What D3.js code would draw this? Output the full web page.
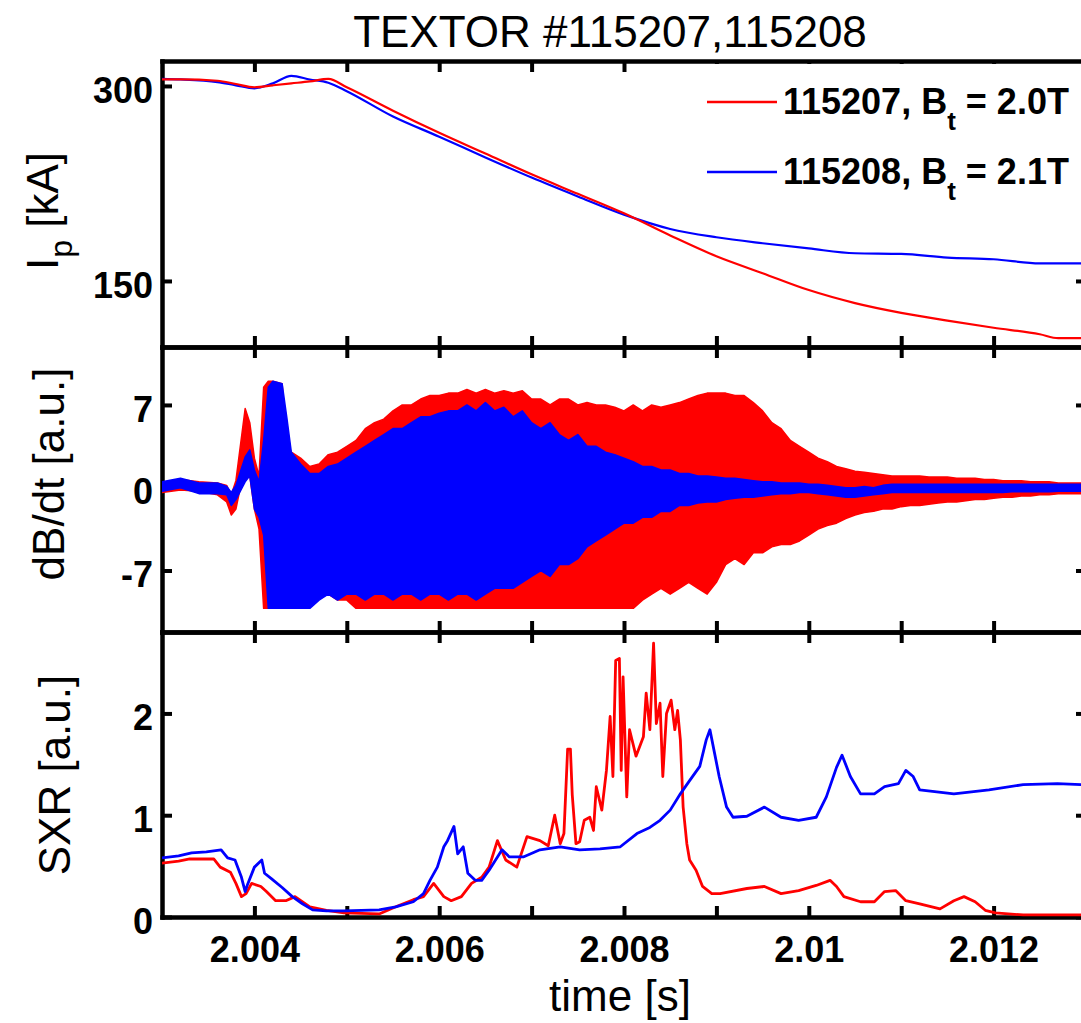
<!DOCTYPE html>
<html>
<head>
<meta charset="utf-8">
<script src="https://cdn.jsdelivr.net/npm/d3@7"></script>
<style>
  body { margin: 0; background: #fff; overflow: hidden; }
  text { font-family: "Liberation Sans", Arial, Helvetica, sans-serif; }
</style>
</head>
<body>
<svg id="chart" width="1081" height="1023"></svg>
<script>
// ---- data ----
const ipTime = [2.0030, 2.0032, 2.0036, 2.0038, 2.0040, 2.0042, 2.0044, 2.0046, 2.0048, 2.0050,
  2.0055, 2.0060, 2.0065, 2.0070, 2.0075, 2.0080, 2.0085, 2.0090, 2.0095, 2.0100,
  2.0105, 2.0110, 2.0115, 2.0120, 2.0125, 2.0127, 2.0130];
const ipRed = [305, 305, 304, 301.5, 299, 300.5, 302, 303.5, 305.4, 299,
  281, 264, 248, 232, 217, 202, 185, 169, 156, 143,
  133, 125.5, 119.5, 114, 109, 106, 106];
const ipBlue = [305.4, 305, 303, 300.5, 298.2, 302, 307.7, 305, 302.5, 296,
  276.5, 261, 245, 229.5, 215, 201, 190, 183.6, 179, 175,
  171.3, 170.8, 168, 166.7, 163.6, 163.6, 163.6];

// dB/dt : upper and lower envelope of the fast oscillation
const dbTime = [2.0030, 2.0032, 2.0034, 2.0036, 2.0037, 2.00375, 2.0038, 2.0039, 2.00395, 2.0040,
  2.00405, 2.0041, 2.00415, 2.0042, 2.0043, 2.00435, 2.0044, 2.0045, 2.0046]
  .concat(d3.range(17, 101).map(i => +(2.003 + i * 1e-4).toFixed(4)));

const dbRedHi = [0.4, 0.7, 0.5, 0.4, 0.2, -0.6, 0.6, 6.7, 5.5, 2.5,
  1.0, 8.5, 9.0, 9.0, 8.8, 4.0, 3.0, 2.5, 1.8,
  2.0, 2.8, 3.0, 3.5, 4.0, 5.0, 5.5, 5.8, 6.5, 7.0,
  7.0, 7.5, 7.8, 7.8, 8.0, 8.0, 8.3, 8.0, 8.3, 8.0,
  8.2, 8.0, 8.2, 7.5, 7.5, 7.0, 7.5, 7.5, 7.0, 7.2,
  7.0, 7.0, 6.8, 6.5, 7.0, 6.5, 7.0, 6.8, 7.0, 7.2,
  7.5, 7.8, 8.0, 8.0, 8.0, 7.8, 7.8, 7.2, 6.5, 5.5,
  5.0, 4.0, 3.5, 3.0, 2.5, 2.2, 1.8, 1.6, 1.4, 1.3,
  1.2, 1.1, 1.0, 1.0, 1.0, 1.0, 0.9, 0.9, 0.9, 0.8,
  0.8, 0.8, 0.7, 0.7, 0.6, 0.6, 0.6, 0.5, 0.5, 0.5,
  0.4, 0.4, 0.4, 0.4];
const dbRedLo = [-0.4, -0.2, -0.3, -0.6, -1.2, -2.3, -1.8, 2.0, 1.0, -1.8,
  -3.5, -10.2, -10.2, -10.2, -10.2, -10.2, -10.2, -10.2, -9.5,
  -9.0, -9.0, -9.5, -9.5, -10.2, -10.2, -10.2, -10.2, -10.2, -10.2,
  -10.2, -10.2, -10.2, -10.2, -10.2, -10.2, -10.2, -10.2, -10.2, -10.2,
  -10.2, -10.2, -10.2, -10.2, -10.2, -10.2, -10.2, -10.2, -10.2, -10.2,
  -10.2, -10.2, -10.2, -10.2, -10.2, -9.5, -9.0, -8.5, -9.0, -8.5,
  -8.0, -8.5, -9.0, -8.0, -6.5, -6.0, -6.5, -5.5, -5.5, -5.0,
  -4.8, -4.8, -4.5, -4.0, -3.5, -3.2, -3.0, -2.6, -2.3, -2.1,
  -2.0, -1.8, -1.8, -1.6, -1.5, -1.5, -1.4, -1.3, -1.2, -1.2,
  -1.1, -1.0, -1.0, -0.9, -0.8, -0.8, -0.7, -0.7, -0.6, -0.6,
  -0.5, -0.5, -0.5, -0.5];
const dbBlueHi = [0.5, 0.8, 0.4, 0.4, 0.1, -0.4, 0.2, 2.6, 3.2, 1.5,
  0.5, 4.0, 8.5, 9.0, 8.8, 6.0, 3.0, 2.0, 1.2,
  1.2, 1.8, 2.0, 2.5, 3.0, 3.5, 4.0, 4.5, 5.0, 5.0,
  5.5, 6.0, 6.0, 6.3, 6.5, 6.5, 7.0, 6.5, 7.2, 6.5,
  6.8, 6.0, 6.5, 5.5, 5.0, 5.5, 4.5, 4.0, 4.5, 3.5,
  3.5, 3.0, 2.8, 2.5, 2.2, 1.8, 1.8, 1.5, 1.5, 1.2,
  1.2, 1.0, 1.0, 0.9, 0.8, 0.8, 0.7, 0.6, 0.5, 0.5,
  0.4, 0.4, 0.4, 0.3, 0.3, 0.2, 0.1, 0.0, 0.0, 0.1,
  0.0, 0.2, 0.3, 0.3, 0.3, 0.3, 0.3, 0.3, 0.3, 0.3,
  0.3, 0.3, 0.3, 0.3, 0.3, 0.3, 0.3, 0.3, 0.3, 0.3,
  0.3, 0.3, 0.3, 0.3];
const dbBlueLo = [-0.3, 0.0, -0.5, -0.5, -0.6, -1.5, -1.0, 0.5, 1.0, -1.8,
  -2.5, -4.0, -10.2, -10.2, -10.2, -10.2, -10.2, -10.2, -10.2,
  -9.5, -9.0, -9.5, -9.0, -9.0, -9.5, -9.0, -9.0, -9.5, -9.0,
  -9.0, -9.5, -9.0, -9.0, -9.5, -9.0, -9.0, -9.5, -9.0, -8.5,
  -8.5, -8.5, -8.0, -7.5, -7.0, -7.5, -6.5, -6.5, -6.0, -5.0,
  -4.5, -4.0, -3.5, -3.0, -3.0, -2.5, -2.5, -2.0, -2.0, -1.5,
  -1.5, -1.3, -1.2, -1.2, -1.0, -0.9, -0.8, -0.8, -0.7, -0.6,
  -0.5, -0.5, -0.4, -0.4, -0.5, -0.6, -0.7, -0.8, -0.8, -0.7,
  -0.6, -0.5, -0.4, -0.4, -0.4, -0.4, -0.4, -0.4, -0.4, -0.4,
  -0.4, -0.4, -0.4, -0.4, -0.4, -0.35, -0.35, -0.35, -0.35, -0.35,
  -0.3, -0.3, -0.3, -0.3];

// SXR
const sxrTimeRed = [2.00300, 2.00318, 2.00330, 2.00356, 2.00363, 2.00374, 2.00380, 2.00386, 2.00391, 2.00397,
  2.00407, 2.00413, 2.00423, 2.00434, 2.00444, 2.00460, 2.00478, 2.00497, 2.00516, 2.00535,
  2.00553, 2.00572, 2.00583, 2.00594, 2.00605, 2.00613, 2.00624, 2.00635, 2.00646, 2.00654,
  2.00663, 2.00672, 2.00684, 2.00695, 2.00709, 2.00718, 2.00725, 2.00731, 2.00735, 2.00739,
  2.00742, 2.00744, 2.00748, 2.00752, 2.00757, 2.00763, 2.00767, 2.00770, 2.00776, 2.00781,
  2.00785, 2.00788, 2.00791, 2.00795, 2.00797, 2.00799, 2.00803, 2.00806, 2.00813, 2.00821,
  2.00824, 2.00828, 2.00832, 2.00835, 2.00839, 2.00842, 2.00846, 2.00851, 2.00855, 2.00858,
  2.00861, 2.00864, 2.00868, 2.00871, 2.00878, 2.00885, 2.00895, 2.00904, 2.00933, 2.00952,
  2.00970, 2.00989, 2.01008, 2.01023, 2.01030, 2.01038, 2.01056, 2.01071, 2.01082, 2.01094,
  2.01105, 2.01120, 2.01142, 2.01157, 2.01168, 2.01180, 2.01191, 2.01202, 2.01232, 2.01295];
const sxrRed = [0.53, 0.55, 0.57, 0.57, 0.49, 0.44, 0.33, 0.20, 0.23, 0.33,
  0.30, 0.25, 0.16, 0.16, 0.20, 0.10, 0.066, 0.04, 0.036, 0.03,
  0.10, 0.17, 0.20, 0.33, 0.20, 0.16, 0.20, 0.33, 0.39, 0.49,
  0.75, 0.56, 0.49, 0.79, 0.75, 0.70, 1.0, 0.72, 0.82, 1.65,
  1.65, 1.2, 0.72, 0.74, 0.95, 0.98, 0.85, 1.28, 1.05, 1.44,
  1.97, 1.38, 2.52, 2.54, 1.44, 2.36, 1.18, 1.84, 1.58, 1.77,
  2.2, 1.84, 2.69, 1.90, 2.1, 1.38, 2.0, 2.13, 1.84, 2.03,
  1.74, 1.08, 0.72, 0.56, 0.46, 0.30, 0.23, 0.23, 0.28, 0.30,
  0.23, 0.26, 0.31, 0.36, 0.30, 0.20, 0.15, 0.15, 0.25, 0.26,
  0.16, 0.13, 0.08, 0.16, 0.20, 0.15, 0.066, 0.04, 0.02, 0.02];

const sxrTimeBlue = [2.00300, 2.00318, 2.00332, 2.00348, 2.00364, 2.00371, 2.00379, 2.00386, 2.00390, 2.00393,
  2.00400, 2.00408, 2.00411, 2.00418, 2.00430, 2.00441, 2.00452, 2.00463, 2.00478, 2.00497,
  2.00535, 2.00553, 2.00572, 2.00583, 2.00590, 2.00598, 2.00605, 2.00609, 2.00616, 2.00620,
  2.00626, 2.00631, 2.00639, 2.00646, 2.00654, 2.00661, 2.00668, 2.00676, 2.00691, 2.00709,
  2.00731, 2.00752, 2.00774, 2.00796, 2.00814, 2.00828, 2.00839, 2.00850, 2.00861, 2.00871,
  2.00882, 2.00889, 2.00893, 2.00898, 2.00903, 2.00911, 2.00918, 2.00933, 2.00952, 2.00970,
  2.00989, 2.01008, 2.01019, 2.01030, 2.01036, 2.01045, 2.01056, 2.01071, 2.01082, 2.01097,
  2.01105, 2.01113, 2.01120, 2.01157, 2.01195, 2.01232, 2.01269, 2.01295];
const sxrBlue = [0.58, 0.60, 0.63, 0.64, 0.66, 0.58, 0.56, 0.39, 0.25, 0.33,
  0.49, 0.56, 0.43, 0.38, 0.29, 0.20, 0.13, 0.07, 0.06, 0.06,
  0.07, 0.10, 0.15, 0.23, 0.36, 0.49, 0.69, 0.75, 0.89, 0.62,
  0.69, 0.43, 0.36, 0.36, 0.46, 0.56, 0.66, 0.59, 0.59, 0.66,
  0.69, 0.66, 0.67, 0.69, 0.82, 0.88, 0.95, 1.05, 1.21, 1.34,
  1.48, 1.74, 1.84, 1.61, 1.38, 1.08, 0.98, 0.99, 1.08, 0.98,
  0.95, 0.98, 1.18, 1.47, 1.59, 1.38, 1.21, 1.21, 1.28, 1.31,
  1.44, 1.38, 1.25, 1.21, 1.25, 1.30, 1.31, 1.30];

const xTicks = [2.004, 2.005, 2.006, 2.007, 2.008, 2.009, 2.010, 2.011, 2.012];
const xLabelled = [2.004, 2.006, 2.008, 2.010, 2.012];
const ipTicks = [150, 300];
const dbTicks = [-7, 0, 7];
const sxrTicks = [0, 1, 2];

const RED = '#ff0000', BLUE = '#0000ff';

// ---- layout ----
const svg = d3.select('#chart');
const left = 162, right = 1086;
const x = d3.scaleLinear().domain([2.003, 2.013]).range([left, right]);

const panels = [
  { top: 61, bottom: 347, domain: [99.2, 319.2], ticks: ipTicks },
  { top: 347, bottom: 632, domain: [-12.2, 11.9], ticks: dbTicks },
  { top: 632, bottom: 917, domain: [0, 2.8], ticks: sxrTicks }
];
panels.forEach(p => { p.y = d3.scaleLinear().domain(p.domain).range([p.bottom, p.top]); });

function styleAxis(g, labelSize) {
  g.attr('font-family', null).attr('font-size', null);
  g.select('.domain').attr('stroke', '#000').attr('stroke-width', 4.5).attr('stroke-linecap', 'square');
  g.selectAll('.tick line').attr('stroke', '#000').attr('stroke-width', 4);
  g.selectAll('.tick text').attr('fill', '#000').style('font-size', labelSize + 'px').style('font-weight', 'bold');
}

const axesLayer = svg.append('g');
const dataLayer = svg.append('g');

panels.forEach((p, i) => {
  axesLayer.append('g').attr('transform', `translate(${left},0)`)
    .call(d3.axisLeft(p.y).tickValues(p.ticks).tickSize(-10).tickSizeOuter(0).tickPadding(9)
      .tickFormat(d => String(d)))
    .call(g => styleAxis(g, 36))
    .selectAll('.tick text').attr('dy', '0.45em');
  axesLayer.append('g').attr('transform', `translate(${right},0)`)
    .call(d3.axisRight(p.y).tickValues(p.ticks).tickSize(-10).tickSizeOuter(0).tickFormat(''))
    .call(g => styleAxis(g, 36));
  axesLayer.append('g').attr('transform', `translate(0,${p.top})`)
    .call(d3.axisTop(x).tickValues(xTicks).tickSize(-11).tickSizeOuter(0).tickFormat(''))
    .call(g => styleAxis(g, 36));
  const last = i === panels.length - 1;
  axesLayer.append('g').attr('transform', `translate(0,${p.bottom})`)
    .call(d3.axisBottom(x).tickValues(xTicks).tickSize(-11).tickSizeOuter(0).tickPadding(19)
      .tickFormat(d => last && xLabelled.some(v => Math.abs(v - d) < 1e-9) ? String(+d.toFixed(3)) : ''))
    .call(g => styleAxis(g, 36));

  svg.append('clipPath').attr('id', 'clip' + i)
    .append('rect').attr('x', left).attr('y', p.top).attr('width', right - left).attr('height', p.bottom - p.top);
});

// ---- Ip ----
const p0 = panels[0];
const ipLine = vals => d3.line().curve(d3.curveMonotoneX)
  .x((d, i) => x(ipTime[i])).y((d, i) => p0.y(vals[i]))(vals);
const g0 = dataLayer.append('g').attr('clip-path', 'url(#clip0)');
g0.append('path').attr('d', ipLine(ipBlue)).attr('fill', 'none').attr('stroke', BLUE).attr('stroke-width', 2.2);
g0.append('path').attr('d', ipLine(ipRed)).attr('fill', 'none').attr('stroke', RED).attr('stroke-width', 2.2);

// ---- dB/dt ----
const p1 = panels[1];
const envelope = (hi, lo) => d3.area()
  .x((d, i) => x(dbTime[i])).y0((d, i) => p1.y(lo[i])).y1((d, i) => p1.y(hi[i]))(hi);
const g1 = dataLayer.append('g').attr('clip-path', 'url(#clip1)');
[[dbRedHi, dbRedLo, RED], [dbBlueHi, dbBlueLo, BLUE]].forEach(([hi, lo, c]) => {
  g1.append('path').attr('d', envelope(hi, lo))
    .attr('fill', c).attr('stroke', c).attr('stroke-width', 1.5).attr('stroke-linejoin', 'round');
});

// ---- SXR ----
const p2 = panels[2];
const g2 = dataLayer.append('g').attr('clip-path', 'url(#clip2)');
[[sxrTimeRed, sxrRed, RED], [sxrTimeBlue, sxrBlue, BLUE]].forEach(([ts, vs, c]) => {
  const line = d3.line().x((d, i) => x(ts[i])).y((d, i) => p2.y(vs[i]));
  g2.append('path').attr('d', line(vs)).attr('fill', 'none').attr('stroke', c)
    .attr('stroke-width', 2.8).attr('stroke-linejoin', 'round');
});

// ---- legend ----
svg.append('rect').attr('x', 698).attr('y', 64).attr('width', 390).attr('height', 140).attr('fill', '#fff');
const legendItems = [
  { shot: '115207', bt: '2.0T', color: RED, y: 102 },
  { shot: '115208', bt: '2.1T', color: BLUE, y: 172 }
];
legendItems.forEach(d => {
  svg.append('line').attr('x1', 707).attr('x2', 777).attr('y1', d.y).attr('y2', d.y)
    .attr('stroke', d.color).attr('stroke-width', 2.5);
  const t = svg.append('text').attr('x', 783).attr('y', d.y + 12)
    .style('font-size', '36px').style('font-weight', 'bold').attr('fill', '#000');
  t.append('tspan').text(`${d.shot}, B`);
  t.append('tspan').attr('dy', 16).style('font-size', '26px').text('t');
  t.append('tspan').attr('dy', -16).text(` = ${d.bt}`);
});

// ---- titles ----
svg.append('text').attr('x', 610).attr('y', 47).attr('text-anchor', 'middle')
  .style('font-size', '44px').text('TEXTOR #115207,115208');

svg.append('text').attr('x', 620).attr('y', 1011).attr('text-anchor', 'middle')
  .style('font-size', '44px').text('time [s]');

const ipLab = svg.append('text').attr('transform', 'translate(58,211) rotate(-90)')
  .attr('text-anchor', 'middle').style('font-size', '44px');
ipLab.append('tspan').text('I');
ipLab.append('tspan').attr('dy', 14).style('font-size', '32px').text('p');
ipLab.append('tspan').attr('dy', -14).text(' [kA]');

svg.append('text').attr('transform', 'translate(64,474) rotate(-90)')
  .attr('text-anchor', 'middle').style('font-size', '44px').text('dB/dt [a.u.]');

svg.append('text').attr('transform', 'translate(70,775) rotate(-90)')
  .attr('text-anchor', 'middle').style('font-size', '44px').text('SXR [a.u.]');
</script>
</body>
</html>
